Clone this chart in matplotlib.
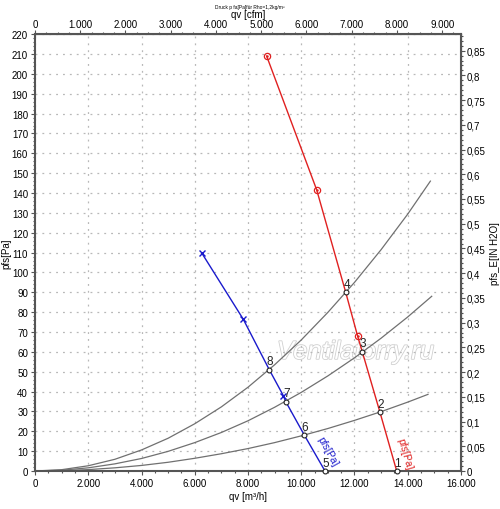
import numpy as np
import matplotlib
matplotlib.use('Agg')
import matplotlib.pyplot as plt
import matplotlib.patheffects as pe
from matplotlib.ticker import MultipleLocator, FixedLocator, FuncFormatter

plt.rcParams['font.family'] = ['Liberation Sans', 'DejaVu Sans']

# fan curves (qv in m3/h, pfs in Pa)
red_q = [8700, 10580, 11670, 12120, 12293, 12958, 13585]
red_p = [209.0, 141.6, 90.0, 67.8, 60.0, 29.5, 0.0]
red_mark_q = [8700, 10580, 12120]
red_mark_p = [209.0, 141.6, 67.8]

blue_q = [6272, 7824, 8800, 9325, 9415, 10115, 10892]
blue_p = [109.6, 76.4, 51.0, 38.0, 35.0, 18.1, 0.0]
blue_mark_q = [6272, 7824, 9325]
blue_mark_p = [109.6, 76.4, 38.0]

# system curves
sys_q = [0, 1000, 2000, 3000, 4000, 5000, 6000, 7000, 8000, 9000, 10000, 11000, 12000, 13000, 14000]
sys_hi = [0, 0.66, 2.64, 5.9, 10.6, 16.5, 23.8, 32.3, 42.2, 53.5, 66.0, 79.9, 95.0, 111.5, 129.4]
sys_mid = [0, 0.4, 1.6, 3.6, 6.3, 9.9, 14.3, 19.4, 25.3, 32.1, 39.6, 47.9, 57.0, 66.9, 77.6]
sys_lo = [0, 0.18, 0.7, 1.6, 2.8, 4.4, 6.4, 8.7, 11.3, 14.3, 17.7, 21.4, 25.5, 29.9, 34.7]
end_hi = (14850, 146.0)
end_mid = (14900, 88.0)
end_lo = (14760, 38.6)

# operating points
op_num = ['1', '2', '3', '4', '5', '6', '7', '8']
op_q = [13585, 12958, 12293, 11670, 10892, 10115, 9415, 8800]
op_p = [0.0, 29.5, 60.0, 90.0, 0.0, 18.1, 35.0, 51.0]

cfm_ticks = [0, 1000, 2000, 3000, 4000, 5000, 6000, 7000, 8000, 9000]

M3H_PER_CFM = 1.69901
PA_PER_INH2O = 249.089


def dotfmt(v, pos):
    return '{:,.0f}'.format(v).replace(',', '.')


def commafmt(v, pos):
    s = ('%.2f' % v).rstrip('0').rstrip('.')
    return s.replace('.', ',')


fig = plt.figure(figsize=(5, 5.1), dpi=100)
ax = fig.add_axes([0.07, 0.0745, 0.852, 0.8565])
ax.set_xlim(0, 16000)
ax.set_ylim(0, 220)

ax.xaxis.set_major_locator(MultipleLocator(2000))
ax.xaxis.set_minor_locator(MultipleLocator(500))
ax.yaxis.set_major_locator(MultipleLocator(10))
ax.yaxis.set_minor_locator(MultipleLocator(2))
ax.xaxis.set_major_formatter(FuncFormatter(dotfmt))
ax.grid(True, which='major', color='#b8b8b8', linestyle=(0, (1.5, 4)), linewidth=0.9)

for s in ax.spines.values():
    s.set_color('#555555')
    s.set_linewidth(1.5)
ax.tick_params(which='both', labelsize=7, color='#555555', length=3, width=0.8, pad=2)
ax.tick_params(which='minor', length=1.5)

ax.set_xlabel('qv [m³/h]', fontsize=7)
ax.xaxis.set_label_coords(0.5, -0.045)
ax.set_ylabel('pfs[Pa]', fontsize=7)
ax.yaxis.set_label_coords(-0.056, 0.5)

# system curves
for yy, end in [(sys_hi, end_hi), (sys_mid, end_mid), (sys_lo, end_lo)]:
    ax.plot(sys_q + [end[0]], yy + [end[1]], color='#707070', lw=0.9, zorder=2)

ax.plot(red_q, red_p, color='#e02020', lw=1.0, zorder=3)
ax.plot(red_mark_q, red_mark_p, 'o', ms=4.5, mfc='none', mec='#e02020', mew=0.9, zorder=4)
ax.plot(red_mark_q, red_mark_p, '.', ms=1.5, color='#e02020', zorder=4)

ax.plot(blue_q, blue_p, color='#1a1acc', lw=1.0, zorder=3)
ax.plot(blue_mark_q, blue_mark_p, 'x', ms=5, mec='#1a1acc', mew=1.0, zorder=4)

ax.plot(op_q, op_p, 'o', ms=3.5, mfc='white', mec='#222222', mew=0.8, zorder=5, clip_on=False)
for n, q, p in zip(op_num, op_q, op_p):
    ax.text(q + 30, p + 1.2, n, fontsize=8.5, color='#222222', ha='center', va='bottom', zorder=6)

ax.text(13870, 9, 'pfs[Pa]', color='#e02020', fontsize=7.5, rotation=-74,
        ha='center', va='center', zorder=6)
ax.text(11000, 10, 'pfs[Pa]', color='#1a1acc', fontsize=7.5, rotation=-61,
        ha='center', va='center', zorder=6)

ax.text(12050, 60, 'Ventilatorry.ru', fontsize=18.5, style='italic', color='white',
        ha='center', va='center', zorder=1,
        path_effects=[pe.withStroke(linewidth=1.2, foreground='#d0d0d0')])

# top axis in cfm
top = ax.secondary_xaxis('top', functions=(lambda x: x / M3H_PER_CFM, lambda x: x * M3H_PER_CFM))
top.xaxis.set_major_locator(FixedLocator(cfm_ticks))
top.xaxis.set_minor_locator(FixedLocator([t + 250 * k for t in cfm_ticks for k in (1, 2, 3)]))
top.xaxis.set_major_formatter(FuncFormatter(dotfmt))
top.tick_params(which='both', labelsize=7, color='#555555', length=3, width=0.8, pad=1)
top.tick_params(which='minor', length=1.5)
top.set_xlabel('qv [cfm]', fontsize=7, labelpad=1)

# right axis in inch water
right = ax.secondary_yaxis('right', functions=(lambda y: y / PA_PER_INH2O, lambda y: y * PA_PER_INH2O))
right.yaxis.set_major_locator(MultipleLocator(0.05))
right.yaxis.set_minor_locator(MultipleLocator(0.01))
right.yaxis.set_major_formatter(FuncFormatter(commafmt))
right.tick_params(which='both', labelsize=7, color='#555555', length=3, width=0.8, pad=1)
right.tick_params(which='minor', length=1.5)
right.set_ylabel('pfs_E[IN H2O]', fontsize=7, labelpad=3)

fig.text(0.5, 0.985, 'Druck p fa[Pa]für Rho=1,2kg/m³', fontsize=3.5, ha='center', va='center')

fig.savefig('out.png', dpi=100)
